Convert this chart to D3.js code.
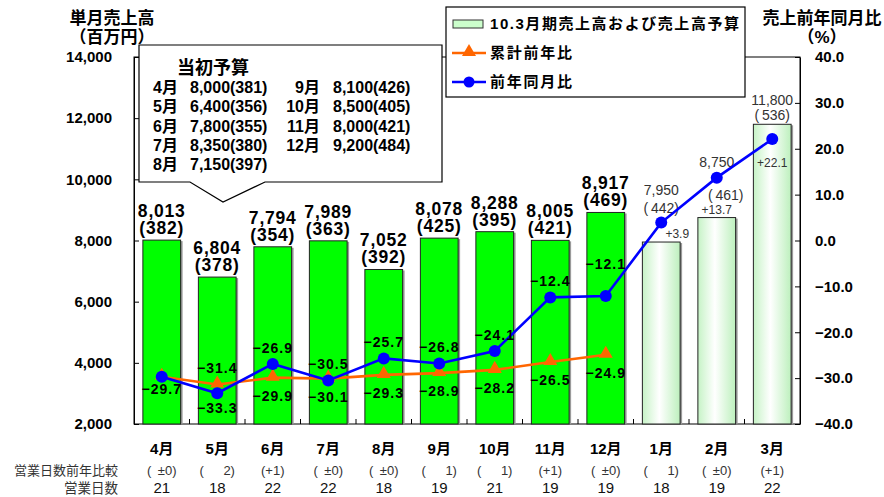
<!DOCTYPE html>
<html>
<head>
<meta charset="utf-8">
<script src="https://cdn.jsdelivr.net/npm/d3@7"></script>
<style>
  body { margin: 0; background: #fff; }
  svg { font-family: "Liberation Sans", "Noto Sans CJK JP", sans-serif; }
</style>
</head>
<body>
<svg id="chart" width="884" height="497"></svg>
<script>
// --- data ---
const months = ['4月', '5月', '6月', '7月', '8月', '9月', '10月', '11月', '12月', '1月', '2月', '3月'];
const sales = [8013, 6804, 7794, 7989, 7052, 8078, 8288, 8005, 8917, 7950, 8750, 11800];
const salesSub = [382, 378, 354, 363, 392, 425, 395, 421, 469, 442, 461, 536];
const actualCount = 9; // 4月-12月 are actuals, 1月-3月 are budget
const yoy = [-29.7, -33.3, -26.9, -30.5, -25.7, -26.8, -24.1, -12.4, -12.1, 3.9, 13.7, 22.1];
const cumYoy = [-29.7, -31.4, -29.9, -30.1, -29.3, -28.9, -28.2, -26.5, -24.9];
const dayDiff = ['±0', '2', '+1', '±0', '±0', '1', '1', '+1', '±0', '1', '±0', '+1'];
const days = [21, 18, 22, 22, 18, 19, 21, 19, 19, 18, 19, 22];

const budgetMonths = ['4月', '5月', '6月', '7月', '8月', '9月', '10月', '11月', '12月'];
const budgetSales = [8000, 6400, 7800, 8350, 7150, 8100, 8500, 8000, 9200];
const budgetSub = [381, 356, 355, 380, 397, 426, 405, 421, 484];

const leftTicks = [2000, 4000, 6000, 8000, 10000, 12000, 14000];
const rightTicks = [-40, -30, -20, -10, 0, 10, 20, 30, 40];

// --- layout ---
const plot = { left: 134, right: 800, top: 57, bottom: 424 };
const GREEN = '#00ff00', ORANGE = '#ff6600', BLUE = '#0000ff';
// hand placement of the budget labels so they dodge the line
const forecastNudge = { '1月': { v: -47, p: -29, px: 0 }, '2月': { v: -51, p: -18, px: 9 }, '3月': { v: -19, p: -4, px: 0 } };

const svg = d3.select('#chart');
const fmt = d3.format(',');

const x = d3.scaleBand().domain(months).range([plot.left, plot.right]).paddingInner(0.32).paddingOuter(0.16);
const yL = d3.scaleLinear().domain([2000, 14000]).range([plot.bottom, plot.top]);
const yR = d3.scaleLinear().domain([-40, 40]).range([plot.bottom, plot.top]);
const cx = m => x(m) + x.bandwidth() / 2;

const defs = svg.append('defs');
const grad = defs.append('linearGradient').attr('id', 'budgetFill').attr('x1', 0).attr('x2', 1).attr('y1', 0).attr('y2', 0);
grad.append('stop').attr('offset', 0).attr('stop-color', '#c6f3c6');
grad.append('stop').attr('offset', 0.45).attr('stop-color', '#ffffff');
grad.append('stop').attr('offset', 1).attr('stop-color', '#bdf0bd');

// frame
svg.append('rect')
    .attr('x', plot.left).attr('y', plot.top)
    .attr('width', plot.right - plot.left).attr('height', plot.bottom - plot.top)
    .attr('fill', 'none').attr('stroke', '#000').attr('stroke-width', 1);

// bars
const barData = months.map((m, i) => ({ m, v: sales[i], sub: salesSub[i], actual: i < actualCount }));
svg.append('g').selectAll('rect').data(barData).join('rect')
    .attr('x', d => x(d.m) + 2).attr('y', d => yL(d.v) + 1)
    .attr('width', x.bandwidth()).attr('height', d => plot.bottom - yL(d.v) - 1)
    .attr('fill', '#9a9a9a');
svg.append('g').selectAll('rect').data(barData).join('rect')
    .attr('x', d => x(d.m)).attr('y', d => yL(d.v))
    .attr('width', x.bandwidth()).attr('height', d => plot.bottom - yL(d.v))
    .attr('fill', d => d.actual ? GREEN : 'url(#budgetFill)')
    .attr('stroke', '#222').attr('stroke-width', 1);

// axes
const axL = svg.append('g').attr('transform', `translate(${plot.left},0)`)
    .call(d3.axisLeft(yL).tickValues(leftTicks).tickFormat(fmt).tickSize(-5).tickSizeOuter(0).tickPadding(22));
const axR = svg.append('g').attr('transform', `translate(${plot.right},0)`)
    .call(d3.axisRight(yR).tickValues(rightTicks).tickFormat(d3.format('.1f')).tickSize(-5).tickSizeOuter(0).tickPadding(15));
[axL, axR].forEach(ax => {
    ax.selectAll('text').attr('font-size', 15).attr('font-weight', 'bold').attr('fill', '#000')
        .attr('font-family', '"Liberation Sans", sans-serif');
    ax.selectAll('line, path').attr('stroke', '#000');
});
axR.selectAll('text').text(d => d3.format('.1f')(d).replace('-', '- '));

// category boundary ticks along the bottom
const step = x.step();
const edge = i => plot.left + x.paddingOuter() * step - x.paddingInner() * step / 2 + i * step;
svg.append('g').selectAll('line').data(d3.range(1, months.length)).join('line')
    .attr('x1', edge).attr('x2', edge)
    .attr('y1', plot.bottom).attr('y2', plot.bottom - 5)
    .attr('stroke', '#000');

// bar value labels
const barLabels = svg.append('g').attr('text-anchor', 'middle');
barData.forEach(d => {
    const top = yL(d.v);
    if (d.actual) {
        barLabels.append('text').attr('x', cx(d.m)).attr('y', top - 23)
            .attr('font-size', 17.5).attr('font-weight', 'bold').attr('letter-spacing', 0.8).text(fmt(d.v));
        barLabels.append('text').attr('x', cx(d.m)).attr('y', top - 6)
            .attr('font-size', 17.5).attr('font-weight', 'bold').attr('letter-spacing', 0.8).text(`(${d.sub})`);
    } else {
        const n = forecastNudge[d.m];
        barLabels.append('text').attr('x', cx(d.m)).attr('y', top + n.v)
            .attr('font-size', 14).attr('fill', '#333').text(fmt(d.v));
        barLabels.append('text').attr('x', cx(d.m) + n.px).attr('y', top + n.p)
            .attr('font-size', 14).attr('fill', '#333').text(`(\u2009${d.sub})`);
    }
});

// lines
const lineGen = d3.line().x(d => cx(d.m)).y(d => yR(d.v));
const cumData = cumYoy.map((v, i) => ({ m: months[i], v }));
const yoyData = yoy.map((v, i) => ({ m: months[i], v }));

svg.append('path').datum(cumData).attr('d', lineGen)
    .attr('fill', 'none').attr('stroke', ORANGE).attr('stroke-width', 2.6);
const tri = d3.symbol().type(d3.symbolTriangle).size(85);
svg.append('g').selectAll('path').data(cumData).join('path')
    .attr('d', tri).attr('transform', d => `translate(${cx(d.m)},${yR(d.v) - 1})`)
    .attr('fill', ORANGE);

svg.append('path').datum(yoyData).attr('d', lineGen)
    .attr('fill', 'none').attr('stroke', BLUE).attr('stroke-width', 2.6);
svg.append('g').selectAll('circle').data(yoyData).join('circle')
    .attr('cx', d => cx(d.m)).attr('cy', d => yR(d.v)).attr('r', 6)
    .attr('fill', BLUE);

// line labels: monthly above, cumulative below, swapped when monthly is clearly lower
const pctLabels = svg.append('g').attr('text-anchor', 'middle');
const pfmt = d3.format('.1f');
const style = t => t.attr('font-size', 14).attr('font-weight', 'bold').attr('letter-spacing', 1);
months.forEach((m, i) => {
    const yb = yR(yoy[i]);
    if (i < actualCount) {
        const yc = yR(cumYoy[i]);
        // the blue label climbs higher when the line comes in steeply from below
        const lift = i > 0 && yoy[i] - yoy[i - 1] < 1 && yoy[i - 1] - (yoy[i - 2] ?? 0) > 10 ? 16 : 0;
        if (yoy[i] === cumYoy[i]) {
            style(pctLabels.append('text').attr('x', cx(m)).attr('y', yb + 17).text(pfmt(yoy[i])));
        } else if (yoy[i] > cumYoy[i] - 1) {
            style(pctLabels.append('text').attr('x', cx(m)).attr('y', yb - 11 - lift).text(pfmt(yoy[i])));
            style(pctLabels.append('text').attr('x', cx(m)).attr('y', yc + 23).text(pfmt(cumYoy[i])));
        } else {
            style(pctLabels.append('text').attr('x', cx(m)).attr('y', yb + 20).text(pfmt(yoy[i])));
            style(pctLabels.append('text').attr('x', cx(m)).attr('y', yc - 12).text(pfmt(cumYoy[i])));
        }
    } else {
        const top = yL(sales[i]);
        const base = top - 4 > yb + 12 ? top - 4 : yb + 28;
        const dx = base - yb < 20 ? 16 : 0;
        pctLabels.append('text').attr('x', cx(m) + dx).attr('y', base)
            .attr('font-size', 12).attr('fill', '#333').text('+' + pfmt(yoy[i]));
    }
});

// category labels and the business-day rows
const cat = svg.append('g').attr('text-anchor', 'middle');
const diffText = d => d.startsWith('±') ? `(\u2002${d})` : d.startsWith('+') ? `(${d})` : `(\u2003\u2002${d})`;
months.forEach((m, i) => {
    cat.append('text').attr('x', cx(m)).attr('y', 454)
        .attr('font-size', 15).attr('font-weight', 'bold').text(m);
    cat.append('text').attr('x', cx(m)).attr('y', 474.5)
        .attr('font-size', 13).attr('fill', '#333').text(diffText(dayDiff[i]));
    cat.append('text').attr('x', cx(m)).attr('y', 492.5)
        .attr('font-size', 15).attr('fill', '#111').text(days[i]);
});
svg.append('text').attr('x', 118).attr('y', 474.5).attr('text-anchor', 'end')
    .attr('font-size', 13).attr('fill', '#333').text('営業日数前年比較');
svg.append('text').attr('x', 118).attr('y', 492.5).attr('text-anchor', 'end')
    .attr('font-size', 13.5).attr('fill', '#333').text('営業日数');

// axis titles
const titles = svg.append('g').attr('text-anchor', 'middle').attr('font-weight', 'bold').attr('font-size', 17);
titles.append('text').attr('x', 112).attr('y', 24).text('単月売上高');
titles.append('text').attr('x', 112).attr('y', 43).text('（百万円）');
titles.append('text').attr('x', 822).attr('y', 24).text('売上前年同月比');
titles.append('text').attr('x', 822).attr('y', 43).text('（%）');

// callout with the original budget
const callout = svg.append('g');
callout.append('path')
    .attr('d', 'M139,45 H442 V182 H265 L223,202 L190,182 H139 Z')
    .attr('fill', '#fff').attr('stroke', '#000').attr('stroke-width', 1.2);
callout.append('text').attr('x', 213).attr('y', 74).attr('text-anchor', 'middle')
    .attr('font-size', 18).attr('font-weight', 'bold').text('当初予算');
budgetMonths.forEach((m, i) => {
    const col = i < 5 ? 0 : 1;
    const row = col === 0 ? i : i - 5;
    const yy = 93 + row * 19.3;
    const t = callout.append('g').attr('font-size', 16).attr('font-weight', 'bold');
    if (col === 0) {
        t.append('text').attr('x', 153).attr('y', yy).text(m);
        t.append('text').attr('x', 190).attr('y', yy).text(`${fmt(budgetSales[i])}(${budgetSub[i]})`);
    } else {
        t.append('text').attr('x', 320).attr('y', yy).attr('text-anchor', 'end').text(m);
        t.append('text').attr('x', 333).attr('y', yy).text(`${fmt(budgetSales[i])}(${budgetSub[i]})`);
    }
});

// legend
const lg = svg.append('g');
lg.append('rect').attr('x', 446).attr('y', 7).attr('width', 299).attr('height', 90)
    .attr('fill', '#fff').attr('stroke', '#000').attr('stroke-width', 1.2);
lg.append('rect').attr('x', 453).attr('y', 20).attr('width', 30).attr('height', 8)
    .attr('fill', '#ccffcc').attr('stroke', '#333');
lg.append('line').attr('x1', 452).attr('x2', 486).attr('y1', 53).attr('y2', 53)
    .attr('stroke', ORANGE).attr('stroke-width', 2.6);
lg.append('path').attr('d', tri).attr('transform', 'translate(469,52)').attr('fill', ORANGE);
lg.append('line').attr('x1', 452).attr('x2', 486).attr('y1', 82).attr('y2', 82)
    .attr('stroke', BLUE).attr('stroke-width', 2.6);
lg.append('circle').attr('cx', 469).attr('cy', 82).attr('r', 5.5).attr('fill', BLUE);
const lgText = lg.append('g').attr('font-size', 15).attr('font-weight', 'bold').attr('lengthAdjust', 'spacing');
lgText.append('text').attr('x', 490).attr('y', 29).attr('textLength', 249).attr('lengthAdjust', 'spacing').text('10.3月期売上高および売上高予算');
lgText.append('text').attr('x', 490).attr('y', 58).attr('textLength', 82).attr('lengthAdjust', 'spacing').text('累計前年比');
lgText.append('text').attr('x', 490).attr('y', 87).attr('textLength', 82).attr('lengthAdjust', 'spacing').text('前年同月比');
</script>
</body>
</html>
